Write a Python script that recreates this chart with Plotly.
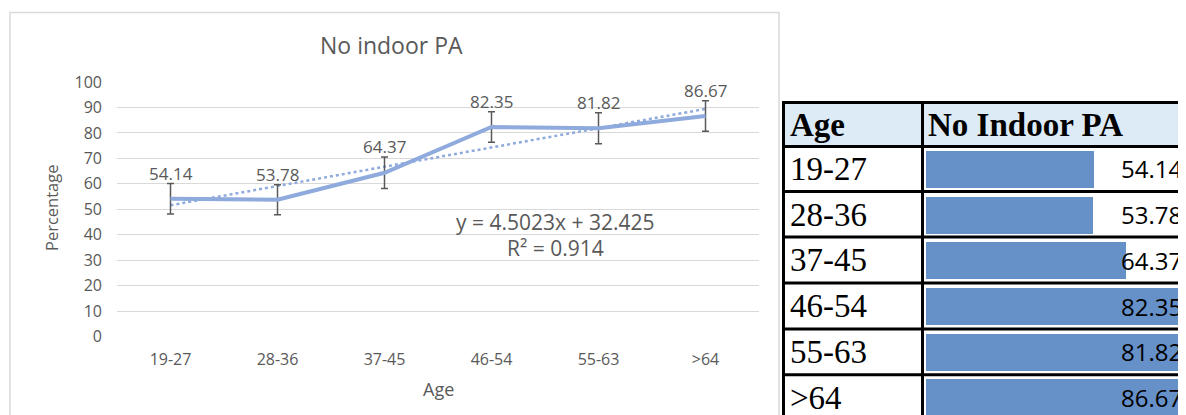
import numpy as np
import plotly.graph_objects as go

# ---------------- data ----------------
ages = ["19-27", "28-36", "37-45", "46-54", "55-63", ">64"]
no_indoor_pa = [54.14, 53.78, 64.37, 82.35, 81.82, 86.67]
error_margin = [6.0, 5.9, 6.2, 6.0, 6.1, 6.0]
y_ticks = [0, 10, 20, 30, 40, 50, 60, 70, 80, 90, 100]
trend_equation = "y = 4.5023x + 32.425"
trend_r2 = "R² = 0.914"
chart_title = "No indoor PA"
x_title = "Age"
y_title = "Percentage"
table_headers = ["Age", "No Indoor PA"]

# ---------------- layout helpers ----------------
W, H = 1186, 415
OFF = 8  # page body margin in the browser


def px(x):
    return (x - OFF) / W


def py(y):
    return 1 - (y - OFF) / H


GRAY_TXT = "#595959"
LINE_BLUE = "#8FAADC"
BAR_BLUE = "#6690C8"
SANS = "Open Sans"
SERIF = "Liberation Serif"

# linear trendline computed from the series
xi = np.arange(1, len(no_indoor_pa) + 1)
slope, intercept = np.polyfit(xi, no_indoor_pa, 1)
trend_vals = slope * xi + intercept

fig = go.Figure()

# trendline (dotted)
fig.add_trace(go.Scatter(
    x=ages, y=trend_vals, mode="lines",
    line=dict(color=LINE_BLUE, width=2.5, dash="dot"),
    hoverinfo="skip", showlegend=False,
))

# main series with error bars
fig.add_trace(go.Scatter(
    x=ages, y=no_indoor_pa, mode="lines",
    line=dict(color=LINE_BLUE, width=4),
    error_y=dict(type="data", array=error_margin, visible=True,
                 color=GRAY_TXT, thickness=1.5, width=3.5),
    showlegend=False,
))

# table bars
x2_left, x2_right = 926, W + OFF
fig.add_trace(go.Bar(
    x=no_indoor_pa, y=ages, orientation="h",
    marker=dict(color=BAR_BLUE, line=dict(width=0)),
    width=0.81, xaxis="x2", yaxis="y2", showlegend=False,
))

shapes = []
# chart area border
shapes.append(dict(type="rect", xref="paper", yref="paper",
                   x0=px(10), x1=px(779), y0=py(440), y1=py(12.5),
                   line=dict(color="#D9D9D9", width=1.5), layer="below"))
# table header background
shapes.append(dict(type="rect", xref="paper", yref="paper",
                   x0=px(783.5), x1=px(1210), y0=py(146.5), y1=py(102.5),
                   fillcolor="#DDEBF7", line=dict(width=0), layer="below"))
# table horizontal rules
for yy in [102.5, 146.5, 191.5, 237, 283, 329, 374.7]:
    shapes.append(dict(type="line", xref="paper", yref="paper",
                       x0=px(782), x1=px(1210), y0=py(yy), y1=py(yy),
                       line=dict(color="black", width=3)))
# table vertical rules
for xx in [783.5, 922.5]:
    shapes.append(dict(type="line", xref="paper", yref="paper",
                       x0=px(xx), x1=px(xx), y0=py(101), y1=py(440),
                       line=dict(color="black", width=3)))

annotations = [
    dict(text=chart_title, x=px(391), y=py(45), xref="paper", yref="paper",
         showarrow=False, xanchor="center", yanchor="middle",
         font=dict(family=SANS, size=23, color=GRAY_TXT)),
    dict(text=y_title, x=px(51), y=py(208), xref="paper", yref="paper",
         showarrow=False, textangle=-90, xanchor="center", yanchor="middle",
         font=dict(family=SANS, size=16.5, color=GRAY_TXT)),
    dict(text=x_title, x=px(438), y=py(389), xref="paper", yref="paper",
         showarrow=False, xanchor="center", yanchor="middle",
         font=dict(family=SANS, size=18, color=GRAY_TXT)),
    dict(text=trend_equation, x=px(555), y=py(222), xref="paper", yref="paper",
         showarrow=False, xanchor="center", yanchor="middle",
         font=dict(family=SANS, size=21, color=GRAY_TXT)),
    dict(text=trend_r2, x=px(555), y=py(248), xref="paper", yref="paper",
         showarrow=False, xanchor="center", yanchor="middle",
         font=dict(family=SANS, size=21, color=GRAY_TXT)),
    dict(text="<b>" + table_headers[0] + "</b>", x=px(788), y=py(125),
         xref="paper", yref="paper", showarrow=False,
         xanchor="left", yanchor="middle",
         font=dict(family=SERIF, size=33, color="black")),
    dict(text="<b>" + table_headers[1] + "</b>", x=px(926), y=py(125),
         xref="paper", yref="paper", showarrow=False,
         xanchor="left", yanchor="middle",
         font=dict(family=SERIF, size=33, color="black")),
]
# data labels above the error bar tops
for a, v, e in zip(ages, no_indoor_pa, error_margin):
    annotations.append(dict(text=f"{v:.2f}", x=a, y=v + e, xref="x", yref="y",
                            showarrow=False, xanchor="center",
                            yanchor="bottom", yshift=-3,
                            font=dict(family=SANS, size=17, color=GRAY_TXT)))
for a, v in zip(ages, no_indoor_pa):
    annotations.append(dict(text=a, x=px(788), y=a, xref="paper", yref="y2",
                            showarrow=False, xanchor="left", yanchor="middle",
                            font=dict(family=SERIF, size=33, color="black")))
    annotations.append(dict(text=f"{v:.2f}", x=px(1119), y=a, xref="paper",
                            yref="y2", showarrow=False, xanchor="left",
                            yanchor="middle",
                            font=dict(family=SANS, size=24, color="black")))

fig.update_layout(
    template="none",
    width=W, height=H,
    margin=dict(l=0, r=0, t=0, b=0, pad=0, autoexpand=False),
    paper_bgcolor="white", plot_bgcolor="white",
    xaxis=dict(domain=[px(117), px(759)], type="category",
               categoryorder="array", categoryarray=ages,
               range=[-0.5, 5.5], showgrid=False, zeroline=False,
               showline=False, ticks="", automargin=False,
               tickfont=dict(family=SANS, size=16, color=GRAY_TXT),
               ticklabelstandoff=11),
    yaxis=dict(domain=[py(336.7), py(82)], range=[0, 100],
               tickvals=y_ticks, showgrid=True, gridcolor="#D9D9D9",
               gridwidth=1.3, zeroline=False, showline=False, ticks="",
               automargin=False,
               tickfont=dict(family=SANS, size=16, color=GRAY_TXT),
               ticklabelstandoff=14),
    xaxis2=dict(domain=[px(x2_left), 1], range=[0, (x2_right - x2_left) / 3.1],
                showgrid=False, zeroline=False, showticklabels=False,
                showline=False, anchor="y2", automargin=False),
    yaxis2=dict(domain=[0, py(146.5)], type="category",
                categoryorder="array", categoryarray=ages,
                range=[5.0 + (H + OFF - 397.5) / 45.7, -0.492],
                showgrid=False, zeroline=False,
                showticklabels=False, showline=False, anchor="x2",
                automargin=False),
    shapes=shapes,
    annotations=annotations,
    bargap=0,
)

fig.write_html("out.html")
